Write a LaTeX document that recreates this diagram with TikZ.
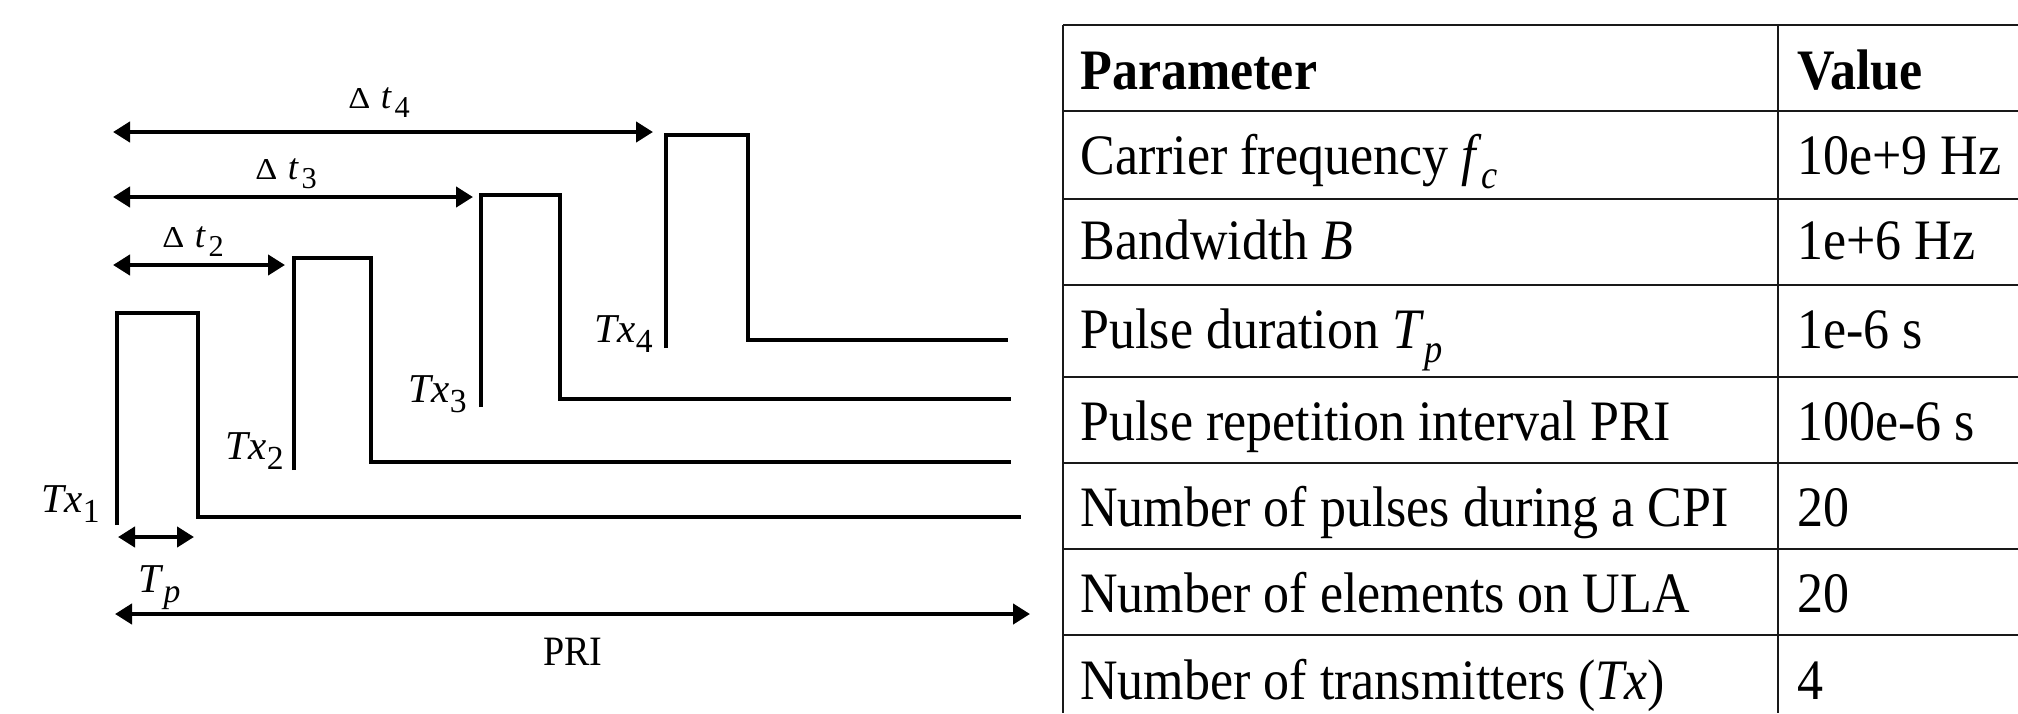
\documentclass[tikz,border=0pt]{standalone}
\usepackage{fontspec}
\setmainfont{Liberation Serif}
\usetikzlibrary{arrows.meta}
\newcommand{\sbs}[1]{\raisebox{-0.25em}{\scalebox{0.7}{#1}}}
\newcommand{\dsb}[1]{\raisebox{-0.25em}{\scalebox{0.82}{#1}}}
\newcommand{\vs}[1]{\scalebox{1}[1.1]{#1}}
\newcommand{\dlt}{\resizebox{11pt}{10pt}{Δ}}
\begin{document}
\begin{tikzpicture}[x=0.5pt,y=-0.5pt,
  sig/.style={line width=2.4pt, line join=miter},
  dim/.style={line width=2.4pt, {Triangle[length=8.5pt,width=10pt]}-{Triangle[length=8.5pt,width=10pt]}},
  lbl/.style={inner sep=0pt, anchor=base east, font=\fontsize{20.5}{24}\selectfont},
  dlbl/.style={inner sep=0pt, anchor=base west, font=\fontsize{18.5}{22}\selectfont},
  plbl/.style={inner sep=0pt, anchor=base west, font=\fontsize{19}{22}\selectfont},
  grid/.style={line width=1pt, black!90},
  cell/.style={inner sep=0pt, anchor=base west, font=\fontsize{26}{30}\selectfont}]
\useasboundingbox (0,0) rectangle (2018,713);

% pulses
\draw[sig] (117,525) |- (198,313) |- (1021,517);
\draw[sig] (294,470) |- (371,258) |- (1011,462);
\draw[sig] (481,407) |- (560,195) |- (1011,399);
\draw[sig] (666,348) |- (748,135) |- (1008,340);

% dimension arrows
\coordinate (a4l) at (113,132); \coordinate (a4r) at (653,132);
\coordinate (a3l) at (113,197); \coordinate (a3r) at (473,197);
\coordinate (a2l) at (113,265); \coordinate (a2r) at (285,265);
\coordinate (tpl) at (118,537); \coordinate (tpr) at (194,537);
\coordinate (pril) at (115,614); \coordinate (prir) at (1030,614);
\draw[dim] (a4l) -- (a4r);
\draw[dim] (a3l) -- (a3r);
\draw[dim] (a2l) -- (a2r);
\draw[dim] (tpl) -- (tpr);
\draw[dim] (pril) -- (prir);

% labels
\node[dlbl] (d4) at (348,108) {\dlt\hspace{0.28em}\textit{t}\kern0.08em\dsb{4}};
\node[dlbl] (d3) at (255,179) {\dlt\hspace{0.28em}\textit{t}\kern0.08em\dsb{3}};
\node[dlbl] (d2) at (162,247) {\dlt\hspace{0.28em}\textit{t}\kern0.08em\dsb{2}};
\node[lbl] (tx1) at (100,512) {\textit{Tx}\dsb{1}};
\node[lbl] (tx2) at (284,459) {\textit{Tx}\dsb{2}};
\node[lbl] (tx3) at (467,402) {\textit{Tx}\dsb{3}};
\node[lbl] (tx4) at (653,342) {\textit{Tx}\dsb{4}};
\node[plbl, font=\fontsize{20.5}{24}\selectfont] (tp) at (138,592) {\textit{T}\dsb{\textit{p}}};
\node[plbl] (pri) at (543,665) {\vs{PRI}};

% table grid
\foreach \yy in {25,111,199,285,377,463,549,635}
  \draw[grid] (1063,\yy) -- (2018,\yy);
\draw[grid] (1063,25) -- (1063,713);
\draw[grid] (1778,25) -- (1778,713);

% table text
\node[cell] (p0) at (1080,89) {\vs{\textbf{Parameter}}};
\node[cell] (v0) at (1797,89) {\vs{\textbf{Value}}};
\node[cell] (p1) at (1080,174) {\vs{Carrier frequency \textit{f}\sbs{\textit{c}}}};
\node[cell] (v1) at (1797,174) {\vs{10e+9 Hz}};
\node[cell] (p2) at (1080,259) {\vs{Bandwidth \textit{B}}};
\node[cell] (v2) at (1797,259) {\vs{1e+6 Hz}};
\node[cell] (p3) at (1080,348) {\vs{Pulse duration \textit{T}\sbs{\textit{p}}}};
\node[cell] (v3) at (1797,348) {\vs{1e-6 s}};
\node[cell] (p4) at (1080,440) {\vs{Pulse repetition interval PRI}};
\node[cell] (v4) at (1797,440) {\vs{100e-6 s}};
\node[cell] (p5) at (1080,526) {\vs{Number of pulses during a CPI}};
\node[cell] (v5) at (1797,526) {\vs{20}};
\node[cell] (p6) at (1080,612) {\vs{Number of elements on ULA}};
\node[cell] (v6) at (1797,612) {\vs{20}};
\node[cell] (p7) at (1080,699) {\vs{Number of transmitters (\textit{Tx})}};
\node[cell] (v7) at (1797,699) {\vs{4}};
\end{tikzpicture}
\end{document}
